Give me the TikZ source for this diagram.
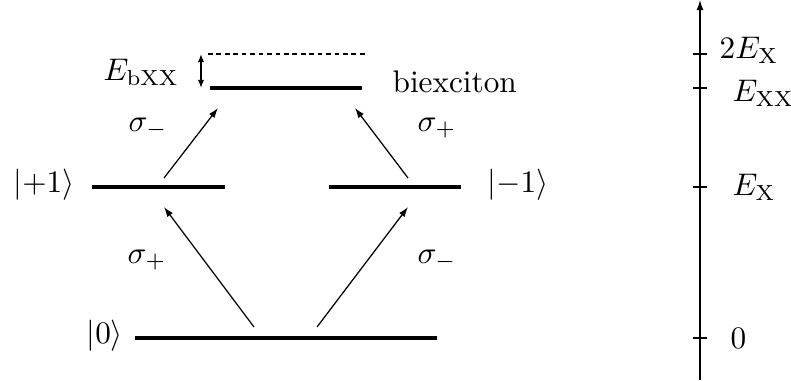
\documentclass[tikz,border=0pt]{standalone}
\usetikzlibrary{arrows.meta}
\begin{document}
\begin{tikzpicture}[x=0.32pt,y=-0.32pt,
  level/.style={line width=1.3pt},
  trans/.style={line width=0.4pt,-{Latex[length=3.2pt,width=2.2pt]}},
  lbl/.style={inner sep=0pt},
  tick/.style={line width=0.4pt}]
\useasboundingbox (0,0) rectangle (791,380);
% energy levels
\coordinate (g0) at (135,338); \coordinate (g1) at (437,338);
\coordinate (pL) at (92,187);  \coordinate (pR) at (225,187);
\coordinate (mL) at (329,187); \coordinate (mR) at (461,187);
\coordinate (bL) at (210,88);  \coordinate (bR) at (362,88);
\coordinate (dL) at (208,54);  \coordinate (dR) at (368,54);
\draw[level] (g0) -- (g1);
\draw[level] (pL) -- (pR);
\draw[level] (mL) -- (mR);
\draw[level] (bL) -- (bR);
\draw[line width=0.4pt,dash pattern=on 1.5pt off 1.2pt] (dL) -- (dR);
% binding energy arrow
\coordinate (eT) at (201,54); \coordinate (eB) at (201,88);
\draw[line width=0.4pt,{Latex[length=2.6pt,width=2pt]}-{Latex[length=2.6pt,width=2pt]}] (eT) -- (eB);
% transitions
\coordinate (t1) at (254,327); \coordinate (h1) at (164,207);
\coordinate (t2) at (317,327); \coordinate (h2) at (408,207);
\coordinate (t3) at (164,178); \coordinate (h3) at (218,108);
\coordinate (t4) at (408,178); \coordinate (h4) at (355,108);
\draw[trans] (t1) -- (h1);
\draw[trans] (t2) -- (h2);
\draw[trans] (t3) -- (h3);
\draw[trans] (t4) -- (h4);
% labels
\node[lbl] (s1) at (147,260) {$\sigma_+$};
\node[lbl] (s2) at (437,260) {$\sigma_-$};
\node[lbl] (s3) at (148,128) {$\sigma_-$};
\node[lbl] (s4) at (437,128) {$\sigma_+$};
\node[lbl,anchor=west] (k0) at (86,336) {$|0\rangle$};
\node[lbl,anchor=west] (kp) at (13,185) {$|{+1}\rangle$};
\node[lbl,anchor=west] (km) at (487,185) {$|{-1}\rangle$};
\node[lbl,anchor=west] (eb) at (103,72) {$E_{\mathrm{bXX}}$};
\node[lbl,anchor=base west] (bx) at (392,92) {biexciton};
% energy axis
\coordinate (a0) at (700,380); \coordinate (a1) at (700,0);
\draw[line width=0.4pt,-{Latex[length=3.2pt,width=2.2pt]}] (a0) -- (a1);
\foreach \y/\n in {54/t2x,88/txx,187/tx,338/tz}{
  \coordinate (\n l) at (693,\y); \coordinate (\n r) at (707,\y);
  \draw[tick] (\n l) -- (\n r);
}
\node[lbl,anchor=west] (l2x) at (719,50) {$2E_{\mathrm{X}}$};
\node[lbl,anchor=west] (lxx) at (732,93) {$E_{\mathrm{XX}}$};
\node[lbl,anchor=west] (lx) at (732,187) {$E_{\mathrm{X}}$};
\node[lbl,anchor=west] (lz) at (730,338) {$0$};
\end{tikzpicture}
\end{document}
